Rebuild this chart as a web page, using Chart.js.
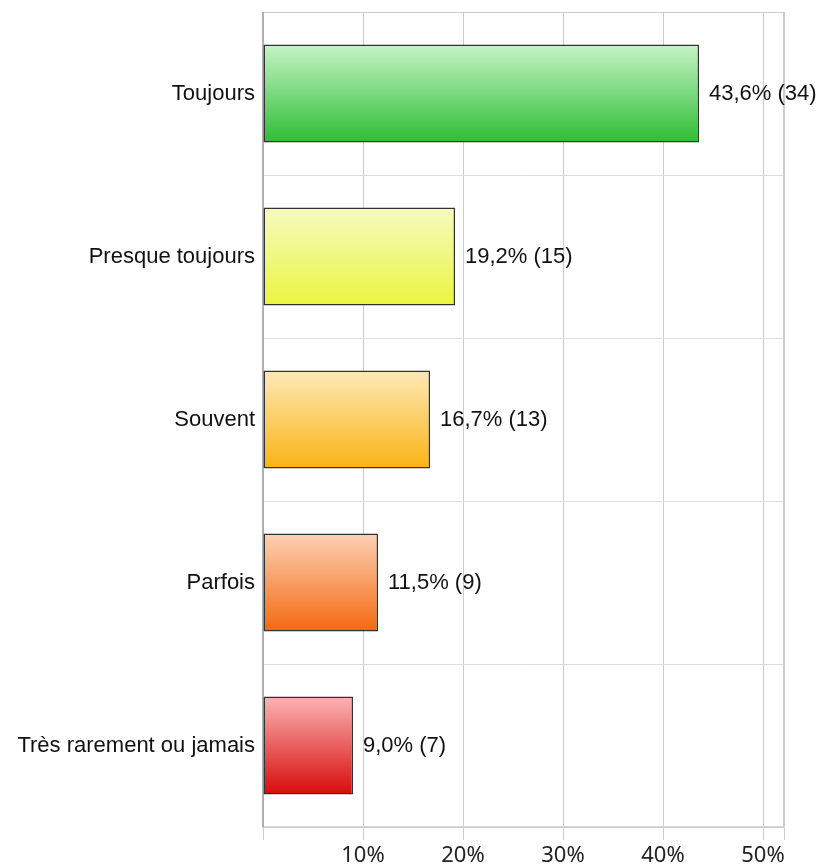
<!DOCTYPE html>
<html>
<head>
<meta charset="utf-8">
<script src="https://cdn.jsdelivr.net/npm/chart.js@4"></script>
<style>
  html, body { margin: 0; padding: 0; background: #fff; }
  #wrap { width: 820px; height: 866px; }
</style>
</head>
<body>
<div id="wrap"><canvas id="grafica"></canvas></div>
<script>
// Datos
const categorias = ["Toujours", "Presque toujours", "Souvent", "Parfois", "Très rarement ou jamais"];
const porcentajes = [43.6, 19.2, 16.7, 11.5, 9.0];
const cantidades = [34, 15, 13, 9, 7];
const ticksX = [10, 20, 30, 40, 50];

// Colores del degradado (arriba -> abajo)
const coloresArriba = ["#c6f4c6", "#f6fbc0", "#fde9b8", "#fdd0b5", "#fbb4b4"];
const coloresAbajo = ["#2ebd35", "#eaf53f", "#fbb313", "#f4690f", "#d80b0b"];

function degradado(ctx) {
    const chart = ctx.chart;
    const area = chart.chartArea;
    const i = ctx.dataIndex;
    if (!area || !chart.scales.y) return coloresAbajo[i];
    const centro = chart.scales.y.getPixelForValue(i);
    const mitad = (area.bottom - area.top) / categorias.length * 0.3;
    const g = chart.ctx.createLinearGradient(0, centro - mitad, 0, centro + mitad);
    g.addColorStop(0, coloresArriba[i]);
    g.addColorStop(1, coloresAbajo[i]);
    return g;
}

// Etiquetas de valor a la derecha de cada barra
const etiquetas = {
    id: "etiquetas",
    afterDatasetsDraw(chart) {
        const c = chart.ctx;
        const meta = chart.getDatasetMeta(0);
        c.save();
        c.font = "22px 'Liberation Sans', Arial, sans-serif";
        c.fillStyle = "#111";
        c.textBaseline = "middle";
        c.textAlign = "left";
        meta.data.forEach((bar, i) => {
            const txt = porcentajes[i].toFixed(1).replace(".", ",") + "% (" + cantidades[i] + ")";
            c.fillText(txt, bar.x + 10, bar.y);
        });
        c.restore();
    }
};

// Marco del area de dibujo
const marco = {
    id: "marco",
    beforeDatasetsDraw(chart) {
        const a = chart.chartArea;
        const c = chart.ctx;
        c.save();
        c.strokeStyle = "#cccccc";
        c.lineWidth = 1;
        c.strokeRect(a.left + 0.5, a.top + 0.5, a.right - a.left - 1, a.bottom - a.top);
        c.strokeStyle = "#b0b0b0";
        c.lineWidth = 2;
        c.beginPath();
        c.moveTo(a.left, a.top);
        c.lineTo(a.left, a.bottom);
        c.stroke();
        c.restore();
    }
};

new Chart(document.getElementById("grafica").getContext("2d"), {
    type: "bar",
    data: {
        labels: categorias,
        datasets: [{
            data: porcentajes,
            backgroundColor: degradado,
            borderColor: "rgba(0,0,0,0.8)",
            borderWidth: 1.5,
            borderSkipped: false,
            barPercentage: 0.6,
            categoryPercentage: 1
        }]
    },
    options: {
        indexAxis: "y",
        responsive: true,
        maintainAspectRatio: false,
        animation: false,
        layout: { padding: { top: 12, right: 36, left: 0, bottom: 0 } },
        plugins: {
            legend: { display: false },
            tooltip: { enabled: false }
        },
        scales: {
            x: {
                min: 0,
                max: 52.1,
                afterFit(scale) { scale.height = 39; },
                afterBuildTicks(scale) {
                    scale.ticks = [0].concat(ticksX).concat([52.1]).map(v => ({ value: v }));
                },
                ticks: {
                    color: "#222",
                    padding: 3,
                    maxRotation: 0,
                    font: { family: "'Noto Sans', sans-serif", size: 22 },
                    callback: v => ticksX.includes(v) ? v + "%" : ""
                },
                grid: { color: "#cccccc", tickLength: 13, drawTicks: true },
                border: { color: "#d8d8d8", width: 2 }
            },
            y: {
                afterFit(scale) {
                    scale.width = 263;
                    scale.paddingTop = 0;
                    scale.paddingBottom = 0;
                },
                ticks: {
                    color: "#111",
                    padding: 8,
                    font: { family: "'Liberation Sans', Arial, sans-serif", size: 22 }
                },
                grid: { color: "#dddddd", drawTicks: false, offset: true },
                border: { display: false }
            }
        }
    },
    plugins: [marco, etiquetas]
});
</script>
</body>
</html>
